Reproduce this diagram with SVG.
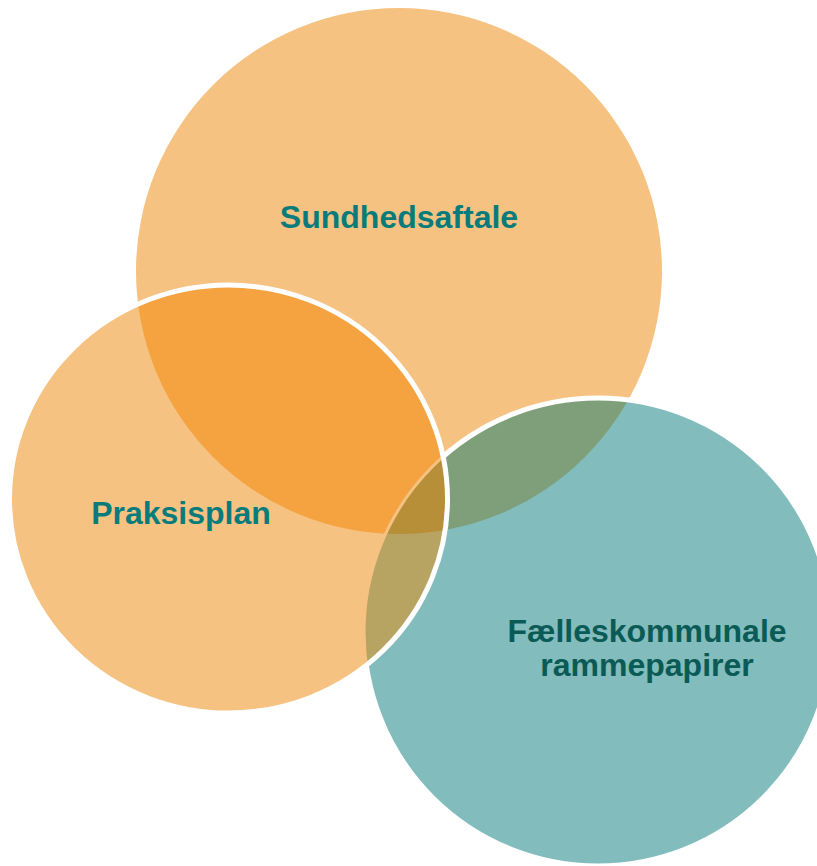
<svg xmlns="http://www.w3.org/2000/svg" width="817" height="866" viewBox="0 0 817 866">
  <style>
    .lbl { font-family: "Liberation Sans", Arial, sans-serif; font-weight: bold; font-size: 32px; text-anchor: middle; }
    .onOrange { fill: #087C7A; }
    .onTeal { fill: #0A5A56; }
    .orange { fill: #F6C282; }
    .teal { fill: #82BCBC; }
  </style>
  <defs>
    <clipPath id="clipTop"><circle cx="399" cy="271" r="263"/></clipPath>
    <clipPath id="clipLeft"><ellipse cx="228.5" cy="499" rx="219" ry="214"/></clipPath>
    <clipPath id="clipOutsideLeft">
      <path clip-rule="evenodd" d="M-10,-10H830V880H-10Z M9.5,499 a219,214 0 1,0 438,0 a219,214 0 1,0 -438,0 Z"/>
    </clipPath>
  </defs>
  <rect width="817" height="866" fill="#FFFFFF"/>

  <g id="node-sundhedsaftale">
    <circle class="orange" cx="399" cy="271" r="263"/>
  </g>
  <g id="node-praksisplan">
    <ellipse class="orange" cx="228.5" cy="499" rx="219" ry="214"/>
  </g>
  <g id="node-faelleskommunale">
    <circle class="teal" cx="598" cy="632" r="234"/>
  </g>

  <g id="overlaps">
    <ellipse cx="228.5" cy="499" rx="219" ry="214" fill="#F4A340" clip-path="url(#clipTop)"/>
    <circle cx="598" cy="632" r="234" fill="#7F9F7A" clip-path="url(#clipTop)"/>
    <circle cx="598" cy="632" r="234" fill="#B8A462" clip-path="url(#clipLeft)"/>
    <g clip-path="url(#clipTop)">
      <circle cx="598" cy="632" r="234" fill="#B68F38" clip-path="url(#clipLeft)"/>
    </g>
  </g>

  <g id="outlines" fill="none">
    <circle cx="598" cy="632" r="234" stroke="#FFFFFF" stroke-width="5" clip-path="url(#clipOutsideLeft)"/>
    <circle cx="598" cy="632" r="234" stroke="#F6C282" stroke-width="3" clip-path="url(#clipLeft)"/>
    <ellipse cx="228.5" cy="499" rx="219" ry="214" stroke="#FFFFFF" stroke-width="5"/>
  </g>

  <g id="connectors"/>

  <g id="labels">
    <text class="lbl onOrange" x="399" y="228">Sundhedsaftale</text>
    <text class="lbl onOrange" x="181" y="524">Praksisplan</text>
    <text class="lbl onTeal" x="647" y="642">Fælleskommunale</text>
    <text class="lbl onTeal" x="647" y="676">rammepapirer</text>
  </g>
</svg>
